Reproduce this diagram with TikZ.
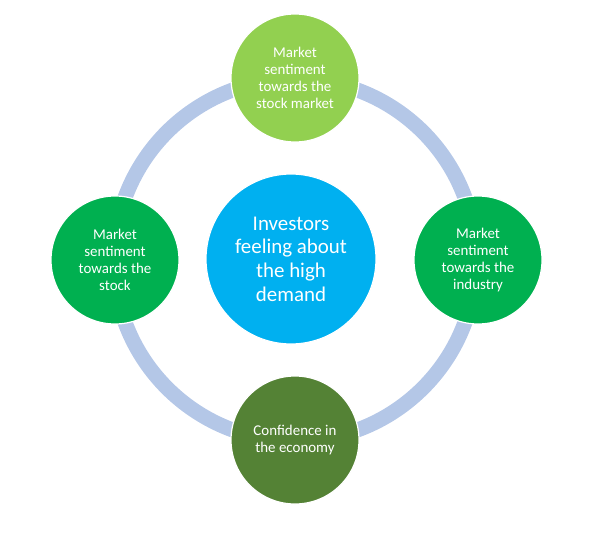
\documentclass[tikz,border=0pt]{standalone}
\usepackage{fontspec}
\setmainfont{Carlito}
\definecolor{ringblue}{HTML}{B4C7E7}
\definecolor{lightgreen}{HTML}{92D050}
\definecolor{midgreen}{HTML}{00B050}
\definecolor{darkgreen}{HTML}{548235}
\definecolor{skyblue}{HTML}{00B0F0}
\begin{document}
\begin{tikzpicture}[x=0.75pt,y=-0.75pt,
  bubble/.style={circle,draw=white,line width=0.9pt,text=white,align=center,inner sep=0pt},
  small/.style={bubble,minimum size=128*0.75pt,font=\fontsize{11.2pt}{12.6pt}\selectfont},
  big/.style={bubble,minimum size=170*0.75pt,font=\fontsize{15.7pt}{17.7pt}\selectfont}]
\useasboundingbox (0,0) rectangle (599,543);
\coordinate (c) at (295,260);
\draw[ringblue,line width=15*0.75pt] (c) circle[radius=181*0.75pt];
\node[big,fill=skyblue] (center) at (291,259) {Investors\\feeling about\\the high\\demand};
\node[small,fill=lightgreen] (top) at (295,78) {Market\\sentiment\\towards the\\stock market};
\node[small,fill=midgreen] (left) at (115,260) {Market\\sentiment\\towards the\\stock};
\node[small,fill=midgreen] (right) at (478,260) {Market\\sentiment\\towards the\\industry};
\node[small,fill=darkgreen] (bottom) at (295,440) {Confidence in\\the economy};
\end{tikzpicture}
\end{document}
